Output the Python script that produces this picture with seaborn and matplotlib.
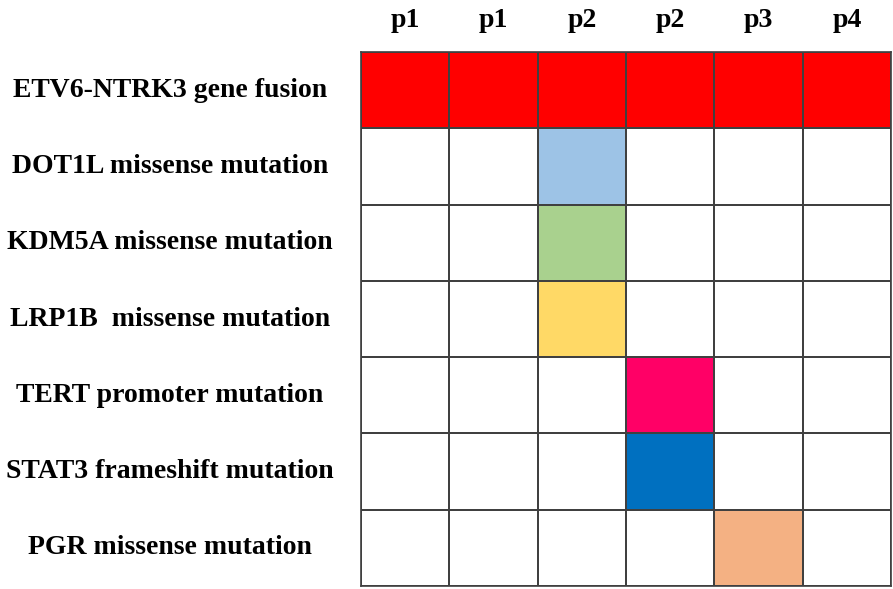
import numpy as np
import matplotlib.pyplot as plt
import pandas as pd
import seaborn as sns
from matplotlib.colors import ListedColormap

# patients (column labels) and alterations (row labels)
patients = ["p1", "p1", "p2", "p2", "p3", "p4"]
alterations = ["ETV6-NTRK3 gene fusion",
               "DOT1L missense mutation",
               "KDM5A missense mutation",
               "LRP1B  missense mutation",
               "TERT promoter mutation",
               "STAT3 frameshift mutation",
               "PGR missense mutation"]
# 1 = alteration present in that sample
present = [[1, 1, 1, 1, 1, 1],
           [0, 0, 1, 0, 0, 0],
           [0, 0, 1, 0, 0, 0],
           [0, 0, 1, 0, 0, 0],
           [0, 0, 0, 1, 0, 0],
           [0, 0, 0, 1, 0, 0],
           [0, 0, 0, 0, 1, 0]]
row_colors = ["#FF0000", "#9DC3E6", "#A9D18E", "#FFD966",
              "#FF0066", "#0070C0", "#F4B183"]

# colour code per cell: 0 = empty, k = row k colour
codes = np.array(present) * (np.arange(len(alterations))[:, None] + 1)
df = pd.DataFrame(codes, index=alterations, columns=range(len(patients)))
cmap = ListedColormap(["#FFFFFF"] + row_colors)

sns.set_style("white")
plt.rcParams['font.family'] = ['Liberation Serif', 'DejaVu Serif']

fig = plt.figure(figsize=(8.93, 5.89), dpi=100)
ax = fig.add_axes([0.4043, 0.0051, 0.5935, 0.9066])
sns.heatmap(df, cmap=cmap, vmin=-0.5, vmax=len(row_colors) + 0.5, cbar=False,
            linewidths=1.2, linecolor="#404040", ax=ax)

ax.xaxis.tick_top()
ax.set_xticklabels(patients, fontsize=20, fontweight='bold', rotation=0,
                   color='black')
ax.tick_params(axis='x', length=0, pad=13.5)
ax.set_yticklabels(alterations, fontsize=20, fontweight='bold', rotation=0,
                   ha='center', color='black')
ax.tick_params(axis='y', length=0, pad=137.5)
ax.set_xlabel("")
ax.set_ylabel("")
for s in ax.spines.values():
    s.set_visible(True)
    s.set_color("#404040")
    s.set_linewidth(1.2)

plt.savefig('out.png', dpi=100)
